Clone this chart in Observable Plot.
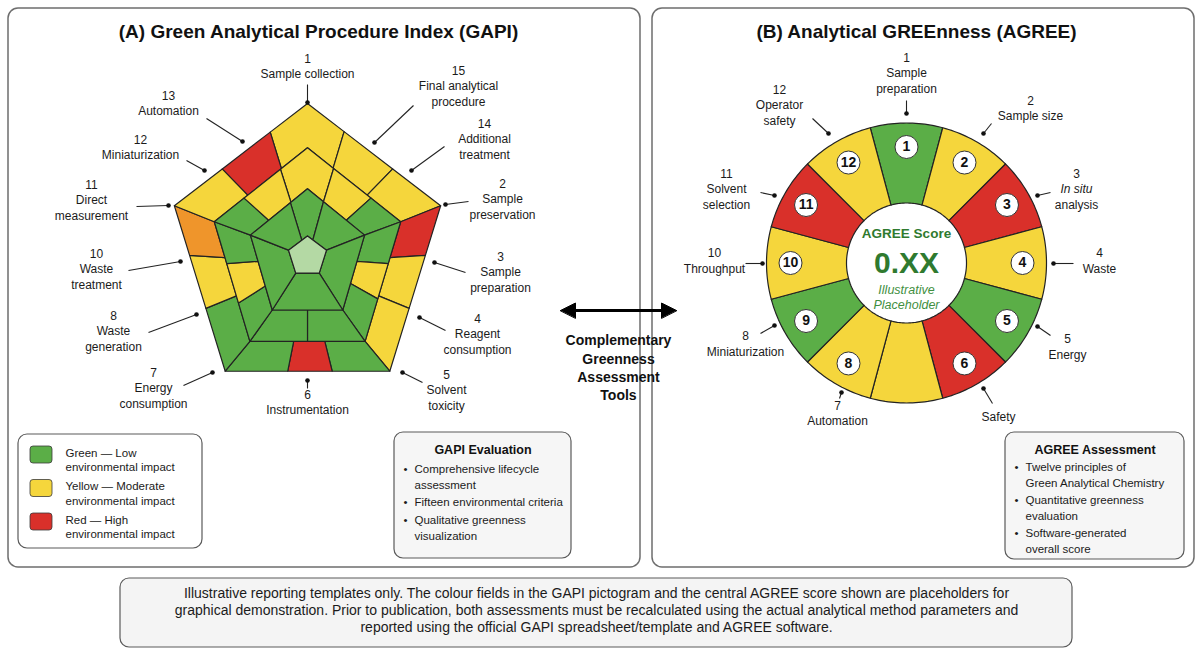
<!DOCTYPE html>
<html><head><meta charset="utf-8">
<script src="https://cdn.jsdelivr.net/npm/d3@7"></script>
<script src="https://cdn.jsdelivr.net/npm/@observablehq/plot@0.6"></script>
<style>
html,body{margin:0;padding:0;background:#ffffff;}
#chart svg{display:block;}
</style></head>
<body><div id="chart"></div>
<script>
// ================= DATA =================
// impact levels: low (green), moderate (yellow), high (red), elevated (orange), core (centre)
const statusDomain = ["low", "moderate", "high", "elevated", "core"];
const statusRange  = ["#5bae47", "#f5d63c", "#d9302a", "#ef952b", "#b4d9a4"];

// GAPI field statuses (outer ring, middle ring, inner ring, core), clockwise from top
const gapiOuterStatus  = ["moderate","moderate","moderate","high","moderate","moderate","low","high","low","low","moderate","elevated","moderate","high"];
const gapiMiddleStatus = ["moderate","moderate","low","low","moderate","low","low","low","low","moderate","low","low","moderate"];
const gapiInnerStatus  = ["low","low","low","low","low","low"];
const gapiCoreStatus   = ["core"];

const gapiLabelNums  = ["1","15","14","2","3","4","5","6","7","8","10","11","12","13"];
const gapiLabelNames = ["Sample collection","Final analytical\nprocedure","Additional\ntreatment","Sample\npreservation","Sample\npreparation","Reagent\nconsumption","Solvent\ntoxicity","Instrumentation","Energy\nconsumption","Waste\ngeneration","Waste\ntreatment","Direct\nmeasurement","Miniaturization","Automation"];

// AGREE segments, clockwise from top
const agreeStatus  = ["low","moderate","high","moderate","low","high","moderate","moderate","low","moderate","high","moderate"];
const agreeNumbers = ["1","2","3","4","5","6","","8","9","10","11","12"];
const agreeLabelNums  = ["1","2","3","4","5","","7","8","10","11","12"];
const agreeLabelNames = ["Sample\npreparation","Sample size","In situ\nanalysis","Waste","Energy","Safety","Automation","Miniaturization","Throughput","Solvent\nselection","Operator\nsafety"];
const italicLines = ["In situ"];
const agreeCenterLines = ["AGREE Score", "0.XX", "Illustrative", "Placeholder"];

const titles = ["(A) Green Analytical Procedure Index (GAPI)", "(B) Analytical GREEnness (AGREE)"];
const legendStatus = ["low","moderate","high"];
const legendLabels = ["Green — Low\nenvironmental impact","Yellow — Moderate\nenvironmental impact","Red — High\nenvironmental impact"];
const gapiBoxTitle = "GAPI Evaluation";
const gapiBoxBullets = ["Comprehensive lifecycle\nassessment","Fifteen environmental criteria","Qualitative greenness\nvisualization"];
const agreeBoxTitle = "AGREE Assessment";
const agreeBoxBullets = ["Twelve principles of\nGreen Analytical Chemistry","Quantitative greenness\nevaluation","Software-generated\noverall score"];
const bridgeLines = ["Complementary","Greenness","Assessment","Tools"];
const captionLines = [
  "Illustrative reporting templates only. The colour fields in the GAPI pictogram and the central AGREE score shown are placeholders for",
  "graphical demonstration. Prior to publication, both assessments must be recalculated using the actual analytical method parameters and",
  "reported using the official GAPI spreadsheet/template and AGREE software."
];

// ================= LAYOUT =================
const W = 1203, H = 660;
const FONT = "'Liberation Sans', Arial, Helvetica, sans-serif";
const INK = "#1b1b1b", EDGE = "#232323";

// GAPI pentagon geometry (rings: core, inner, middle, outer)
const gapiCX = 307;
const ringRX = [20, 60, 98, 140];
const ringRY = [20.5, 67, 107, 148];
const ringCY = [256, 255.3, 254.3, 251];
// field edges along perimeter parameter (side k runs from vertex k to k+1; 0 = top)
const outerEdges  = [-0.28, 0.275, 0.64, 1, 1.30, 1.62, 2, 2.35, 2.62, 3, 3.38, 3.70, 4, 4.36, 4.72];
const middleEdges = [-0.29, 0.28, 0.68, 1, 1.35, 1.645, 2, 2.5, 3, 3.32, 3.65, 4, 4.32, 4.71];
const innerEdges  = [-0.3, 0.28, 1, 2, 3, 4, 4.7];

// label layouts: [textX, blockCenterY, lineFromX, lineFromY, dotX, dotY]
const gapiLabelPos = [
  [307, 66, 307, 84, 307, 102],
  [458, 86, 413, 105, 374, 142],
  [484, 139, 444, 146, 411, 170],
  [502, 199, 468, 201, 445, 204],
  [500, 272, 465, 272, 434, 262],
  [477, 334, 445, 330, 419, 317],
  [446, 390, 422, 382, 402, 372],
  [307, 402, 307, 388, 307, 380],
  [153, 388, 183, 385, 212, 372],
  [113, 331, 148, 332, 196, 314],
  [96, 269, 128, 270, 180, 261],
  [91, 200, 136, 206, 168, 205],
  [140, 147, 186, 160, 204, 170],
  [168, 103, 206, 118, 242, 141]
];
const agreeLabelPos = [
  [906, 73, 906, 100, 906, 113],
  [1030, 108, 991, 123, 983, 133],
  [1076, 189, 1050, 192, 1037, 195],
  [1099, 260.5, 1073, 263, 1053, 263],
  [1067, 346.5, 1050, 335, 1037, 326],
  [998, 417, 992, 403, 983, 388],
  [837, 413, 839, 398, 841, 392],
  [745, 343.5, 760, 333, 774, 325],
  [714, 260.5, 745, 263, 762, 263],
  [726, 189, 760, 192, 774, 195],
  [779, 105, 812, 118, 828, 133]
];
const LH = 15.5;

// AGREE wheel geometry
const agCX = 906, agCY = 262.5, agRo = 140, agRi = 60, agRnum = 116;

// ================= GEOMETRY HELPERS =================
const mod5 = n => ((n % 5) + 5) % 5;
function vtx(r, k) {
  const a = (-90 + 72 * mod5(k)) * Math.PI / 180;
  return [gapiCX + ringRX[r] * Math.cos(a), ringCY[r] + ringRY[r] * Math.sin(a)];
}
function ptAt(r, t) {
  const k = Math.floor(t), f = t - k;
  const A = vtx(r, k), B = vtx(r, k + 1);
  return [A[0] + f * (B[0] - A[0]), A[1] + f * (B[1] - A[1])];
}
function cellPoly(r, t0, t1) {
  const pts = [ptAt(r, t0)];
  for (let n = Math.floor(t0) + 1; n < t1; n++) pts.push(vtx(r, n));
  pts.push(ptAt(r, t1));
  pts.push(ptAt(r - 1, t1));
  for (let n = Math.ceil(t1) - 1; n > t0; n--) pts.push(vtx(r - 1, n));
  pts.push(ptAt(r - 1, t0));
  return pts;
}
const polyPoints = [];
function addRing(r, edges, statuses, tag) {
  statuses.forEach((s, i) => {
    cellPoly(r, edges[i], edges[i + 1]).forEach(([x, y]) => polyPoints.push({id: tag + i, status: s, x, y}));
  });
}
addRing(3, outerEdges, gapiOuterStatus, "o");
addRing(2, middleEdges, gapiMiddleStatus, "m");
addRing(1, innerEdges, gapiInnerStatus, "i");
for (let k = 0; k < 5; k++) { const [x, y] = vtx(0, k); polyPoints.push({id: "core", status: gapiCoreStatus[0], x, y}); }

// AGREE sectors
const agreePoints = [];
agreeStatus.forEach((s, i) => {
  const a0 = i * 30 - 15, a1 = i * 30 + 15, N = 24;
  for (let j = 0; j <= N; j++) { const a = (a0 + (a1 - a0) * j / N) * Math.PI / 180; agreePoints.push({id: "a" + i, status: s, x: agCX + agRo * Math.sin(a), y: agCY - agRo * Math.cos(a)}); }
  for (let j = N; j >= 0; j--) { const a = (a0 + (a1 - a0) * j / N) * Math.PI / 180; agreePoints.push({id: "a" + i, status: s, x: agCX + agRi * Math.sin(a), y: agCY - agRi * Math.cos(a)}); }
});
const agreeNumData = agreeNumbers.map((n, i) => ({n, x: agCX + agRnum * Math.sin(i * 30 * Math.PI / 180), y: agCY - agRnum * Math.cos(i * 30 * Math.PI / 180)})).filter(d => d.n !== "");

// labels -> lines
function labelLines(nums, names, pos) {
  const lines = [], links = [];
  nums.forEach((num, i) => {
    const parts = (num ? [num] : []).concat(names[i].split("\n"));
    const [tx, yc, lx, ly, dx, dy] = pos[i];
    parts.forEach((t, j) => lines.push({text: t, x: tx, y: yc + (j - (parts.length - 1) / 2) * LH, italic: italicLines.includes(t)}));
    links.push({x1: lx, y1: ly, x2: dx, y2: dy});
  });
  return {lines, links};
}
const gL = labelLines(gapiLabelNums, gapiLabelNames, gapiLabelPos);
const aL = labelLines(agreeLabelNums, agreeLabelNames, agreeLabelPos);
const allLabelLines = gL.lines.concat(aL.lines);
const allLinks = gL.links.concat(aL.links);

// boxes
const panels = [
  {x1: 8, x2: 640, y1: 8, y2: 567},
  {x1: 652, x2: 1194, y1: 8, y2: 567}
];
const infoBoxes = [
  {x1: 18, x2: 202, y1: 434, y2: 548, fill: "#ffffff"},
  {x1: 394, x2: 571, y1: 432, y2: 558, fill: "#f6f6f6"},
  {x1: 1005, x2: 1184, y1: 432, y2: 559, fill: "#f6f6f6"},
  {x1: 120, x2: 1072, y1: 578, y2: 647, fill: "#f4f4f4"}
];

// legend
const legendSw = legendStatus.map((s, i) => ({status: s, x1: 30, x2: 52, y1: 446 + 33.5 * i, y2: 463 + 33.5 * i}));
const legendText = [];
legendLabels.forEach((t, i) => t.split("\n").forEach((line, j) => legendText.push({text: line, x: 65, y: 452.5 + 33.5 * i + 14.5 * j})));

function bulletLines(bullets, x0, y0, lh, gap) {
  const out = [], dots = [];
  let y = y0;
  bullets.forEach(b => {
    dots.push({x: x0 - 11, y});
    b.split("\n").forEach(line => { out.push({text: line, x: x0, y}); y += lh; });
    y += gap;
  });
  return {out, dots};
}
const gB = bulletLines(gapiBoxBullets, 414, 469, 15.5, 2.2);
const aB = bulletLines(agreeBoxBullets, 1025, 467, 15.5, 2);

const captionData = captionLines.map((t, i) => ({text: t, x: 596, y: 593.5 + 17 * i}));
const bridgeData = bridgeLines.map((t, i) => ({text: t, x: 618, y: 340.5 + 18.2 * i}));
const titleData = [{text: titles[0], x: 318, y: 31}, {text: titles[1], x: 916, y: 31}];

// arrow
const arrow = {x1: 560, x2: 676, y: 310, head: 15, half: 7.5};
const arrowHeads = [
  [[arrow.x1, arrow.y], [arrow.x1 + arrow.head, arrow.y - arrow.half], [arrow.x1 + arrow.head, arrow.y + arrow.half]],
  [[arrow.x2, arrow.y], [arrow.x2 - arrow.head, arrow.y - arrow.half], [arrow.x2 - arrow.head, arrow.y + arrow.half]]
].flatMap((tri, i) => tri.map(([x, y]) => ({id: i, x, y})));

const centerData = [
  {text: agreeCenterLines[0], y: 233.5, size: 13.5, weight: "bold", style: "normal", fill: "#2f7a2f"},
  {text: agreeCenterLines[1], y: 263, size: 30, weight: "bold", style: "normal", fill: "#2f7a2f"},
  {text: agreeCenterLines[2], y: 289, size: 12.5, weight: "normal", style: "italic", fill: "#3f8f3f"},
  {text: agreeCenterLines[3], y: 304, size: 12.5, weight: "normal", style: "italic", fill: "#3f8f3f"}
];

// ================= PLOT =================
const marks = [
  Plot.rect(panels, {x1: "x1", x2: "x2", y1: "y1", y2: "y2", fill: "#ffffff", stroke: "#6e6e6e", strokeWidth: 1.5, rx: 10}),
  Plot.rect(infoBoxes, {x1: "x1", x2: "x2", y1: "y1", y2: "y2", fill: d => d.fill, stroke: "#5a5a5a", strokeWidth: 1.2, rx: 9}),
  // GAPI pictogram
  Plot.line(polyPoints, {x: "x", y: "y", z: "id", fill: "status", stroke: EDGE, strokeWidth: 1.2, curve: "linear-closed"}),
  // AGREE wheel
  Plot.line(agreePoints, {x: "x", y: "y", z: "id", fill: "status", stroke: EDGE, strokeWidth: 1.2, curve: "linear-closed"}),
  Plot.dot(agreeNumData, {x: "x", y: "y", r: 11.5, fill: "#ffffff", stroke: "#333", strokeWidth: 1}),
  Plot.text(agreeNumData, {x: "x", y: "y", text: "n", fontSize: 14, fontWeight: "bold", fill: "#111", fontFamily: FONT}),
  ...centerData.map(d => Plot.text([d], {x: () => agCX, y: "y", text: "text", fontSize: d.size, fontWeight: d.weight, fontStyle: d.style, fill: d.fill, fontFamily: FONT})),
  // connectors
  Plot.link(allLinks, {x1: "x1", y1: "y1", x2: "x2", y2: "y2", stroke: "#222", strokeWidth: 1.1}),
  Plot.dot(allLinks, {x: "x2", y: "y2", r: 2.3, fill: "#111", stroke: "none"}),
  Plot.text(allLabelLines.filter(d => !d.italic), {x: "x", y: "y", text: "text", fontSize: 12, fill: INK, fontFamily: FONT}),
  Plot.text(allLabelLines.filter(d => d.italic), {x: "x", y: "y", text: "text", fontSize: 12, fill: INK, fontStyle: "italic", fontFamily: FONT}),
  // titles
  Plot.text(titleData, {x: "x", y: "y", text: "text", fontSize: 19, fontWeight: "bold", fill: "#111", fontFamily: FONT}),
  // bridge arrow
  Plot.link([arrow], {x1: d => d.x1 + 10, x2: d => d.x2 - 10, y1: "y", y2: "y", stroke: "#000", strokeWidth: 3.2}),
  Plot.line(arrowHeads, {x: "x", y: "y", z: "id", fill: "#000", stroke: "#000", strokeWidth: 1, curve: "linear-closed"}),
  Plot.text(bridgeData, {x: "x", y: "y", text: "text", fontSize: 14, fontWeight: "bold", fill: "#111", fontFamily: FONT}),
  // legend
  Plot.rect(legendSw, {x1: "x1", x2: "x2", y1: "y1", y2: "y2", fill: "status", stroke: "#3a3a3a", strokeWidth: 0.8, rx: 3}),
  Plot.text(legendText, {x: "x", y: "y", text: "text", textAnchor: "start", fontSize: 11.5, fill: INK, fontFamily: FONT}),
  // info boxes
  Plot.text([{text: gapiBoxTitle, x: 482.5, y: 449}, {text: agreeBoxTitle, x: 1094.5, y: 449}], {x: "x", y: "y", text: "text", fontSize: 12.5, fontWeight: "bold", fill: "#111", fontFamily: FONT}),
  Plot.text(gB.out.concat(aB.out), {x: "x", y: "y", text: "text", textAnchor: "start", fontSize: 11.5, fill: INK, fontFamily: FONT}),
  Plot.text(gB.dots.concat(aB.dots), {x: "x", y: "y", text: () => "•", textAnchor: "start", fontSize: 11.5, fill: INK, fontFamily: FONT}),
  // caption
  Plot.text(captionData, {x: "x", y: "y", text: "text", fontSize: 14, fill: INK, fontFamily: FONT})
];

const chart = Plot.plot({
  width: W, height: H, margin: 0,
  x: {domain: [0, W], range: [0, W], axis: null},
  y: {domain: [0, H], range: [0, H], axis: null},
  color: {type: "ordinal", domain: statusDomain, range: statusRange},
  style: {fontFamily: FONT, background: "#ffffff", overflow: "visible"},
  marks
});
document.getElementById("chart").appendChild(chart);
</script>
</body></html>
